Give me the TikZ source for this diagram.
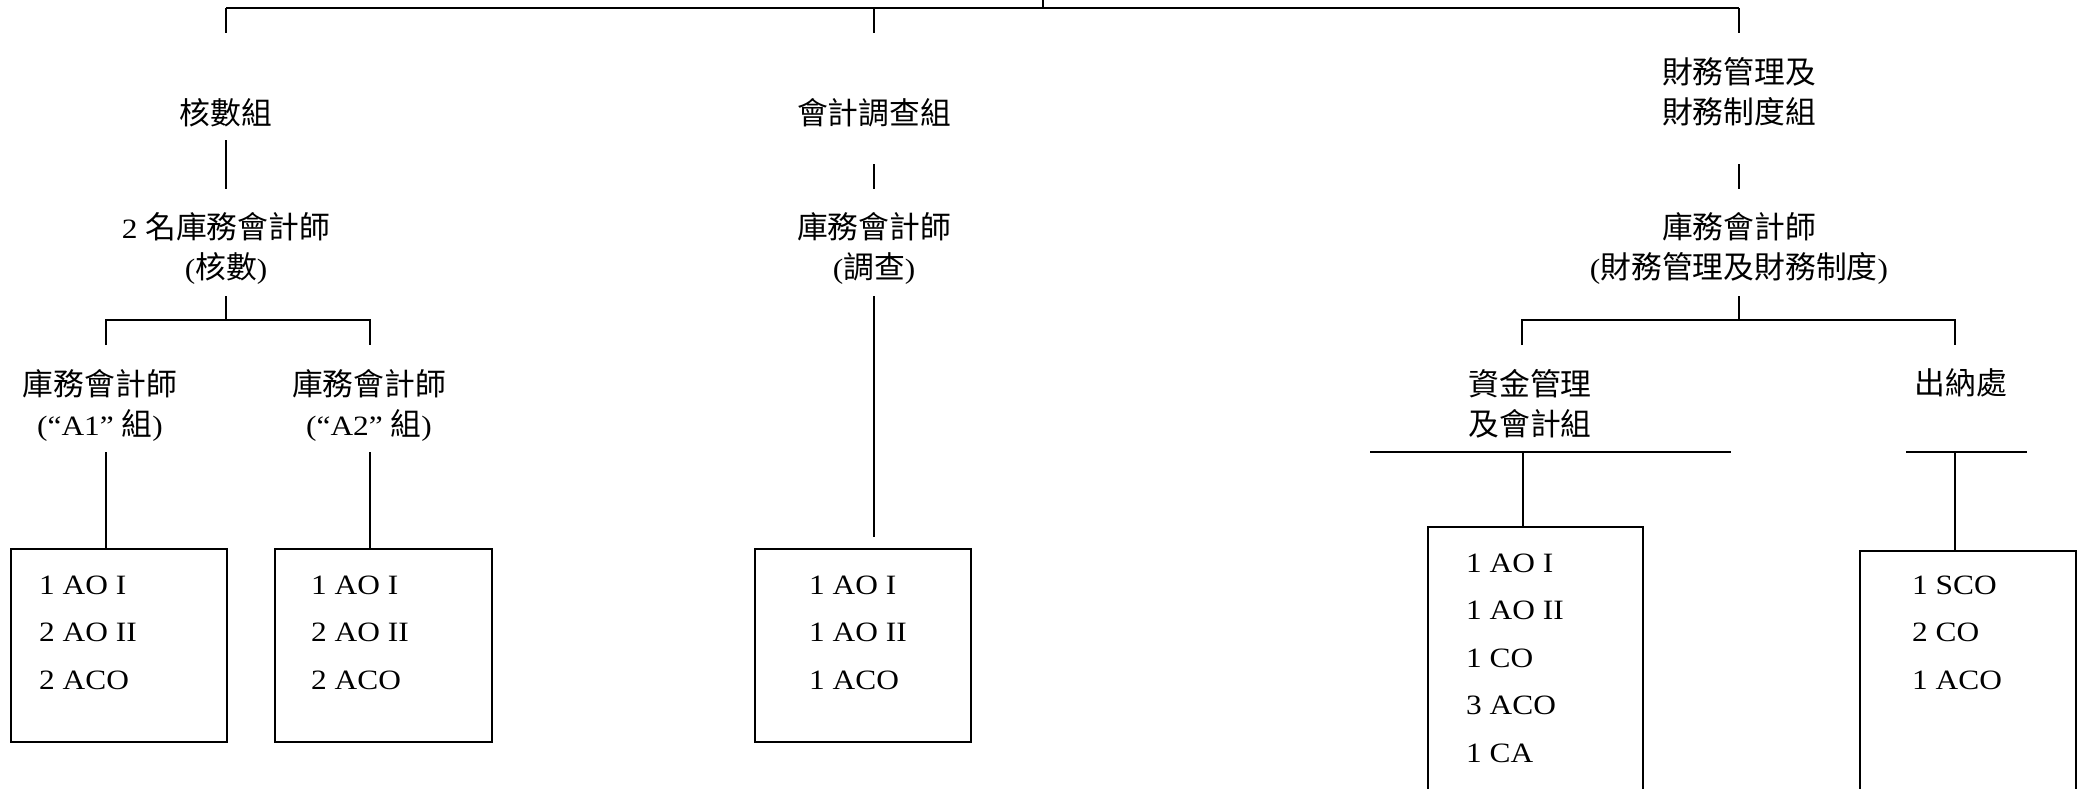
\documentclass[tikz,border=0pt]{standalone}
\usepackage{fontspec}
\setmainfont[FakeStretch=1.12]{Liberation Serif}
\newfontfamily\cjk[Scale=1.1]{Noto Sans CJK TC}
\newcommand{\zh}[1]{{\cjk #1}}
\begin{document}
\begin{tikzpicture}[x=1pt,y=-1pt,
  conn/.style={line width=1.5pt},
  topconn/.style={line width=2pt},
  lbl/.style={inner sep=0pt, anchor=base, align=center, font=\fontsize{28}{40}\selectfont},
  staff/.style={inner sep=0pt, anchor=base west, align=left, font=\fontsize{28}{47.5}\selectfont},
  unitbox/.style={draw, line width=2pt, inner sep=0pt, anchor=north west}]
\useasboundingbox (0,0) rectangle (2080,788);
\clip (0,0) rectangle (2080,788);

% labels (anchor = baseline of the last line)
\node[lbl] (grpA) at (226,124) {\zh{核數組}};
\node[lbl] (grpB) at (874,124) {\zh{會計調查組}};
\node[lbl] (grpC) at (1739,123) {\zh{財務管理及}\\\zh{財務制度組}};
\node[lbl] (tA) at (226,278) {2 \zh{名庫務會計師}\\(\zh{核數})};
\node[lbl] (tB) at (874,278) {\zh{庫務會計師}\\(\zh{調查})};
\node[lbl] (tC) at (1739,278) {\zh{庫務會計師}\\(\zh{財務管理及財務制度})};
\node[lbl] (tA1) at (100,435) {\zh{庫務會計師}\\(“A1” \zh{組})};
\node[lbl] (tA2) at (369,435) {\zh{庫務會計師}\\(“A2” \zh{組})};
\node[lbl] (sC1) at (1530,435) {\zh{資金管理}\\\zh{及會計組}};
\node[lbl] (sC2) at (1961,394) {\zh{出納處}};

% boxes
\node[unitbox, minimum width=216pt, minimum height=193pt] (box1) at (10,548) {};
\node[unitbox, minimum width=217pt, minimum height=193pt] (box2) at (274,548) {};
\node[unitbox, minimum width=216pt, minimum height=193pt] (box3) at (754,548) {};
\node[unitbox, minimum width=215pt, minimum height=320pt] (box4) at (1427,526) {};
\node[unitbox, minimum width=216pt, minimum height=300pt] (box5) at (1859,550) {};

\node[staff] (s1) at (39,689) {1 AO I\\2 AO II\\2 ACO};
\node[staff] (s2) at (311,689) {1 AO I\\2 AO II\\2 ACO};
\node[staff] (s3) at (809,689) {1 AO I\\1 AO II\\1 ACO};
\node[staff] (s4) at (1466,762) {1 AO I\\1 AO II\\1 CO\\3 ACO\\1 CA};
\node[staff] (s5) at (1912,689) {1 SCO\\2 CO\\1 ACO};

% coordinates
\coordinate (topstub) at (1043,-5);
\coordinate (topmid) at (1043,8);
\coordinate (tl) at (226,8);
\coordinate (tm) at (874,8);
\coordinate (tr) at (1739,8);
\coordinate (tlE) at (226,33);
\coordinate (tmE) at (874,33);
\coordinate (trE) at (1739,33);
\coordinate (aS) at (226,140);
\coordinate (aE) at (226,189);
\coordinate (bS) at (874,164);
\coordinate (bE) at (874,189);
\coordinate (cS) at (1739,164);
\coordinate (cE) at (1739,189);
\coordinate (a2S) at (226,296);
\coordinate (a2M) at (226,320);
\coordinate (aL) at (106,320);
\coordinate (aR) at (370,320);
\coordinate (aLE) at (106,345);
\coordinate (aRE) at (370,345);
\coordinate (a1S) at (106,452);
\coordinate (a2SS) at (370,452);
\coordinate (b2S) at (874,296);
\coordinate (b2E) at (874,537);
\coordinate (c2S) at (1739,296);
\coordinate (c2M) at (1739,320);
\coordinate (cL) at (1522,320);
\coordinate (cR) at (1955,320);
\coordinate (cLE) at (1522,345);
\coordinate (cRE) at (1955,345);
\coordinate (d1L) at (1370,452);
\coordinate (d1R) at (1731,452);
\coordinate (d1M) at (1523,452);
\coordinate (d2L) at (1906,452);
\coordinate (d2R) at (2027,452);
\coordinate (d2M) at (1955,452);

% connectors
\draw[topconn] (topstub) -- (topmid);
\draw[topconn] (tl) -- (tr);
\draw[conn] (tl) -- (tlE);
\draw[conn] (tm) -- (tmE);
\draw[conn] (tr) -- (trE);
\draw[conn] (aS) -- (aE);
\draw[conn] (bS) -- (bE);
\draw[conn] (cS) -- (cE);
\draw[conn] (a2S) -- (a2M);
\draw[conn] (aLE) -- (aL) -- (aR) -- (aRE);
\draw[conn] (a1S) -- (a1S |- box1.north);
\draw[conn] (a2SS) -- (a2SS |- box2.north);
\draw[conn] (b2S) -- (b2E);
\draw[conn] (c2S) -- (c2M);
\draw[conn] (cLE) -- (cL) -- (cR) -- (cRE);
\draw[topconn] (d1L) -- (d1R);
\draw[conn] (d1M) -- (d1M |- box4.north);
\draw[topconn] (d2L) -- (d2R);
\draw[conn] (d2M) -- (d2M |- box5.north);
\end{tikzpicture}
\end{document}
